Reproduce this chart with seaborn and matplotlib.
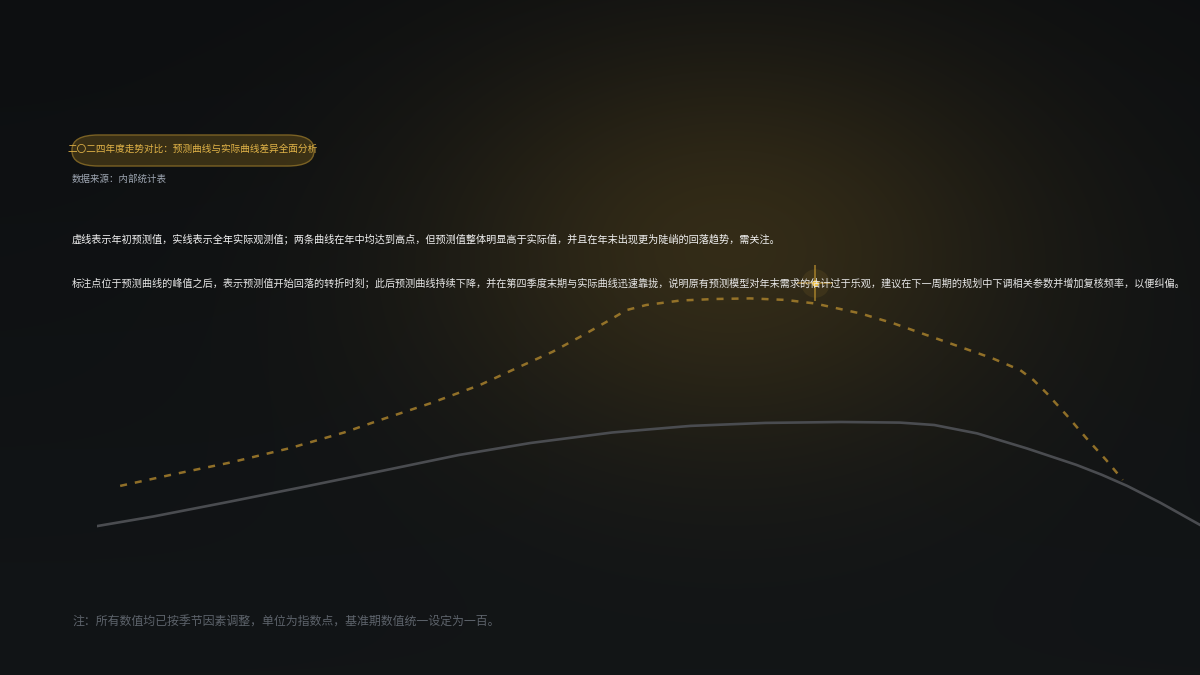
import numpy as np
import pandas as pd
import seaborn as sns
import matplotlib.pyplot as plt
from matplotlib.patches import FancyBboxPatch

# data: position along the year (0-100) and index value
pred_x = [2.1, 7.1, 12.1, 17.5, 22.4, 25.7, 30.2, 34.7, 38.3, 41.3, 43.8,
          46.2, 48.0, 49.8, 52.9, 56.0, 59.2, 62.4, 65.1, 69.2, 72.2, 75.2,
          78.2, 81.2, 83.7, 84.9, 86.1, 87.9, 89.7, 91.5, 93.0]
pred_y = [24.7, 28.7, 32.5, 37.3, 42.5, 46.7, 52.2, 58.3, 64.4, 69.4, 74.4,
          79.4, 83.3, 85.0, 86.5, 87.0, 87.2, 86.7, 85.5, 82.2, 78.9, 75.0,
          71.1, 67.2, 63.3, 60.0, 55.6, 48.3, 40.6, 33.3, 26.7]
act_x = [0.0, 5.1, 12.1, 18.9, 25.7, 32.8, 39.3, 46.7, 53.8, 60.6, 67.5,
         72.8, 75.9, 79.8, 84.3, 88.8, 91.1, 93.4, 96.4, 100.0, 102.7]
act_y = [11.3, 14.5, 19.5, 24.5, 29.6, 35.0, 39.0, 42.5, 44.7, 45.7, 46.0,
         45.8, 45.0, 42.2, 37.2, 31.7, 28.4, 24.7, 19.1, 11.7, 6.3]
mark_x = [65.1]
mark_y = [92.3]

badge = "二〇二四年度走势对比：预测曲线与实际曲线差异全面分析"
subtitle = "数据来源：内部统计表"
line1 = ("虚线表示年初预测值，实线表示全年实际观测值；两条曲线在年中均达到高点，"
         "但预测值整体明显高于实际值，并且在年末出现更为陡峭的回落趋势，需关注。")
line2 = ("标注点位于预测曲线的峰值之后，表示预测值开始回落的转折时刻；此后预测曲线持续下降，"
         "并在第四季度末期与实际曲线迅速靠拢，说明原有预测模型对年末需求的估计过于乐观，"
         "建议在下一周期的规划中下调相关参数并增加复核频率，以便纠偏。")
footer = "注：所有数值均已按季节因素调整，单位为指数点，基准期数值统一设定为一百。"

sns.set_style("dark")
plt.rcParams["font.family"] = ["Noto Sans CJK SC", "DejaVu Sans"]

W, H = 1200, 675
fig = plt.figure(figsize=(12, 6.75), dpi=100)

# background with warm glow
bg = fig.add_axes([0, 0, 1, 1])
yy, xx = np.mgrid[0:H, 0:W]
base = np.array([13, 15, 17]) / 255.0
bottom = np.array([18, 21, 23]) / 255.0
t = (yy / H)[..., None]
img = base * (1 - t) + bottom * t
glow = np.exp(-(((xx - 730) / 300.0) ** 2 + ((yy - 245) / 210.0) ** 2))[..., None]
warm = np.array([150, 115, 35]) / 255.0
img = img * (1 - 0.27 * glow) + warm * 0.27 * glow
bg.imshow(img, extent=[0, W, H, 0], aspect="auto")
bg.set_xlim(0, W)
bg.set_ylim(H, 0)
bg.axis("off")

# chart axes
ax = fig.add_axes([97 / W, 0, 1 - 97 / W, 1])
ax.patch.set_alpha(0)
ax.set_xlim(0, 100)
ax.set_ylim((560 - H) / 3.0, 560 / 3.0)
ax.axis("off")

pred = pd.DataFrame({"x": pred_x, "y": pred_y})
act = pd.DataFrame({"x": act_x, "y": act_y})
sns.lineplot(data=act, x="x", y="y", ax=ax, color="#4a4c50", lw=1.9)
sns.lineplot(data=pred, x="x", y="y", ax=ax, color="#a7802c", lw=1.8,
             alpha=0.85).lines[-1].set_dashes((2.8, 3.2))

ax.scatter(mark_x, mark_y, s=420, color="#d8a93a", alpha=0.09, lw=0)
ax.scatter(mark_x, mark_y, s=640, marker="+", color="#c99a30", alpha=0.75, lw=1.1)
ax.scatter(mark_x, mark_y, s=22, color="#f0c24a", lw=0, zorder=5)

# texts
for fc, ec, a in [("#8a6a1c", "none", 0.35), ("none", "#7a6124", 1.0)]:
    fig.patches.append(FancyBboxPatch(
        (72 / W, 1 - 166 / H), 242 / W, 31 / H,
        boxstyle="round,pad=0,rounding_size=0.022",
        transform=fig.transFigure, facecolor=fc, edgecolor=ec, alpha=a, lw=1))
fig.text(193 / W, 1 - 149 / H, badge, color="#e2b448", fontsize=6.9,
         ha="center", va="center")
fig.text(72 / W, 1 - 179 / H, subtitle, color="#9ea6b2", fontsize=6.8,
         va="center")
fig.text(72 / W, 1 - 239 / H, line1, color="#f2f2f2", fontsize=7.3,
         va="center")
fig.text(72 / W, 1 - 283 / H, line2, color="#e8e8e8", fontsize=7.3,
         va="center")
fig.text(72 / W, 1 - 622 / H, footer, color="#5d636b", fontsize=8.6,
         va="center")

fig.savefig("out.png", dpi=100)
